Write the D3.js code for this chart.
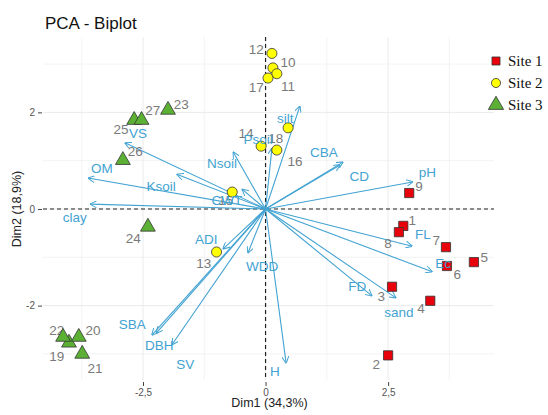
<!DOCTYPE html>
<html>
<head>
<meta charset="utf-8">
<script src="https://cdn.jsdelivr.net/npm/d3@7"></script>
<style>
  body { margin: 0; background: #fff; }
  text { font-family: "Liberation Sans", Arial, sans-serif; }
</style>
</head>
<body>
<script>
const width = 548, height = 415;

// individuals (PCA scores)
const indNames = ["1","2","3","4","5","6","7","8","9",
                  "10","11","12","13","14","15","16","17","18",
                  "19","20","21","22","23","24","25","26","27"];
const indSite = [1,1,1,1,1,1,1,1,1, 2,2,2,2,2,2,2,2,2, 3,3,3,3,3,3,3,3,3];
const indX = [2.81, 2.50, 2.58, 3.36, 4.25, 3.70, 3.68, 2.72, 2.93,
              0.15, 0.23, 0.13, -1.00, -0.09, -0.68, 0.46, 0.05, 0.23,
              -4.01, -3.81, -3.74, -4.13, -1.99, -2.40, -2.68, -2.91, -2.53];
const indY = [-0.35, -3.03, -1.61, -1.90, -1.10, -1.18, -0.79, -0.48, 0.33,
              2.92, 2.80, 3.22, -0.89, 1.30, 0.35, 1.68, 2.71, 1.22,
              -2.77, -2.65, -3.00, -2.65, 2.05, -0.37, 1.84, 1.01, 1.84];
// where the repelled number labels ended up
const indLabX = [2.99, 2.26, 2.36, 3.17, 4.46, 3.91, 3.48, 2.50, 3.13,
                 0.46, 0.46, -0.19, -1.26, -0.40, -0.81, 0.60, -0.19, 0.21,
                 -4.26, -3.52, -3.48, -4.26, -1.72, -2.70, -2.95, -2.66, -2.30];
const indLabY = [-0.23, -3.21, -1.80, -2.05, -0.99, -1.35, -0.64, -0.70, 0.48,
                 3.04, 2.55, 3.31, -1.12, 1.57, 0.17, 0.99, 2.51, 1.47,
                 -3.04, -2.51, -3.29, -2.51, 2.17, -0.60, 1.64, 1.20, 2.05];

// variables (arrow tips)
const varNames = ["silt","Psoil","CBA","CD","pH","FL","Ec","FD","sand","H","WDD",
                  "ADI","SBA","DBH","SV","CWT","Nsoil","VS","Ksoil","OM","clay"];
const varX = [0.70, 0.13, 1.58, 1.52, 3.00, 2.99, 3.40, 2.17, 2.66, 0.42, -0.36,
              -0.87, -2.32, -2.23, -1.91, -0.48, -0.66, -2.87, -1.81, -3.62, -3.58];
const varY = [2.13, 1.26, 0.97, 0.91, 0.56, -0.77, -1.30, -1.80, -1.84, -3.19, -0.91,
              -0.83, -2.61, -2.57, -2.81, 0.41, 1.18, 1.37, 0.72, 0.64, 0.10];
const varLabX = [0.40, -0.15, 1.19, 1.91, 3.30, 3.21, 3.62, 1.87, 2.72, 0.19, -0.07,
                 -1.21, -2.72, -2.17, -1.64, -0.79, -0.89, -2.60, -2.13, -3.34, -3.89];
const varLabY = [1.88, 1.45, 1.18, 0.68, 0.75, -0.52, -1.12, -1.59, -2.13, -3.35, -1.18,
                 -0.62, -2.38, -2.82, -3.21, 0.17, 0.95, 1.57, 0.48, 0.85, -0.17];

const siteNames = ["Site 1","Site 2","Site 3"];
const xTicks = [-2.5, 0, 2.5];
const xTickLabels = ["-2,5", "0", "2,5"];
const yTicks = [-2, 0, 2];
const xMinor = [-3.75, -1.25, 1.25, 3.75];
const yMinor = [-3, -1, 1, 3];

const varColor = "#42a3d2";
const labColor = "#7a7a7a";
const siteFill = {1: "#e8000b", 2: "#ffff00", 3: "#5cb135"};

const svg = d3.select("body").append("svg")
  .attr("width", width).attr("height", height);

const x = d3.scaleLinear().domain([-4.54, 4.66]).range([43, 494]);
const y = d3.scaleLinear().domain([-3.54, 3.56]).range([380, 37]);

// arrow head
svg.append("defs").append("marker")
  .attr("id", "head")
  .attr("viewBox", "0 0 10 10")
  .attr("refX", 9.5).attr("refY", 5)
  .attr("markerWidth", 7).attr("markerHeight", 7)
  .attr("markerUnits", "userSpaceOnUse")
  .attr("orient", "auto")
  .append("path")
  .attr("d", "M0,0 L10,5 L0,10")
  .attr("fill", "none")
  .attr("stroke", varColor)
  .attr("stroke-width", 1.4);

// grid
const grid = svg.append("g");
xMinor.concat(xTicks).forEach(v => {
  grid.append("line").attr("x1", x(v)).attr("x2", x(v)).attr("y1", y(3.56)).attr("y2", y(-3.54))
    .attr("stroke", "#ebebeb").attr("stroke-width", xTicks.includes(v) ? 1 : 0.6);
});
yMinor.concat(yTicks).forEach(v => {
  grid.append("line").attr("x1", x(-4.54)).attr("x2", x(4.66)).attr("y1", y(v)).attr("y2", y(v))
    .attr("stroke", "#ebebeb").attr("stroke-width", yTicks.includes(v) ? 1 : 0.6);
});

// axes
const xAxis = d3.axisBottom(x).tickValues(xTicks).tickFormat((d, i) => xTickLabels[i]).tickSize(4).tickPadding(3);
const xg = svg.append("g").attr("transform", `translate(0,${y(-3.54) + 2})`).call(xAxis);
xg.select(".domain").remove();
xg.selectAll("line").attr("stroke", "#444");
xg.selectAll("text").attr("fill", "#555").style("font-size", "10px");

const yAxis = d3.axisLeft(y).tickValues(yTicks).tickFormat(d => d).tickSize(4).tickPadding(3);
const yg = svg.append("g").attr("transform", `translate(${x(-4.54) - 1},0)`).call(yAxis);
yg.select(".domain").remove();
yg.selectAll("line").attr("stroke", "#444");
yg.selectAll("text").attr("fill", "#555").style("font-size", "10px");

// dashed origin lines
svg.append("line").attr("x1", x(0)).attr("x2", x(0)).attr("y1", y(3.56)).attr("y2", y(-3.54))
  .attr("stroke", "#222").attr("stroke-width", 1.2).attr("stroke-dasharray", "4,3");
svg.append("line").attr("x1", x(-4.54)).attr("x2", x(4.66)).attr("y1", y(0)).attr("y2", y(0))
  .attr("stroke", "#222").attr("stroke-width", 1.2).attr("stroke-dasharray", "4,3");

// variable arrows
svg.append("g").selectAll("line")
  .data(varNames.map((n, i) => ({n, vx: varX[i], vy: varY[i]})))
  .join("line")
  .attr("x1", x(0)).attr("y1", y(0))
  .attr("x2", d => x(d.vx)).attr("y2", d => y(d.vy))
  .attr("stroke", varColor).attr("stroke-width", 1.1)
  .attr("marker-end", "url(#head)");

// individual labels
svg.append("g").selectAll("text")
  .data(indNames.map((n, i) => ({n, lx: indLabX[i], ly: indLabY[i]})))
  .join("text")
  .attr("x", d => x(d.lx)).attr("y", d => y(d.ly))
  .attr("dy", "0.35em").attr("text-anchor", "middle")
  .attr("fill", labColor).style("font-size", "13.5px")
  .text(d => d.n);

// individual points
const sym = {1: d3.symbolSquare, 2: d3.symbolCircle, 3: d3.symbolTriangle};
const symSize = {1: 85, 2: 80, 3: 95};
svg.append("g").selectAll("path")
  .data(indNames.map((n, i) => ({n, s: indSite[i], px: indX[i], py: indY[i]})))
  .join("path")
  .attr("transform", d => `translate(${x(d.px)},${y(d.py)})`)
  .attr("d", d => d3.symbol(sym[d.s], symSize[d.s])())
  .attr("fill", d => siteFill[d.s])
  .attr("stroke", "#333").attr("stroke-width", 0.8);

// variable labels
svg.append("g").selectAll("text")
  .data(varNames.map((n, i) => ({n, lx: varLabX[i], ly: varLabY[i]})))
  .join("text")
  .attr("x", d => x(d.lx)).attr("y", d => y(d.ly))
  .attr("dy", "0.35em").attr("text-anchor", "middle")
  .attr("fill", varColor).style("font-size", "13.5px")
  .text(d => d.n);

// title and axis titles
svg.append("text").attr("x", 45).attr("y", 29).text("PCA - Biplot")
  .attr("fill", "#111").style("font-size", "17px");
svg.append("text").attr("x", x(0) + 4).attr("y", 407).attr("text-anchor", "middle")
  .text("Dim1 (34,3%)").attr("fill", "#222").style("font-size", "12.5px");
svg.append("text").attr("transform", `translate(21,${y(0)}) rotate(-90)`).attr("text-anchor", "middle")
  .text("Dim2 (18,9%)").attr("fill", "#222").style("font-size", "12.5px");

// legend
const leg = svg.append("g");
siteNames.forEach((s, i) => {
  const ly = 61 + i * 22;
  leg.append("path")
    .attr("transform", `translate(496,${ly})`)
    .attr("d", d3.symbol(sym[i + 1], i === 2 ? 100 : 65)())
    .attr("fill", siteFill[i + 1]).attr("stroke", "#333").attr("stroke-width", 0.8);
  leg.append("text").attr("x", 508).attr("y", ly).attr("dy", "0.35em")
    .text(s).attr("fill", "#111")
    .style("font-family", "'Liberation Serif', 'Times New Roman', serif")
    .style("font-size", "15px");
});
</script>
</body>
</html>
